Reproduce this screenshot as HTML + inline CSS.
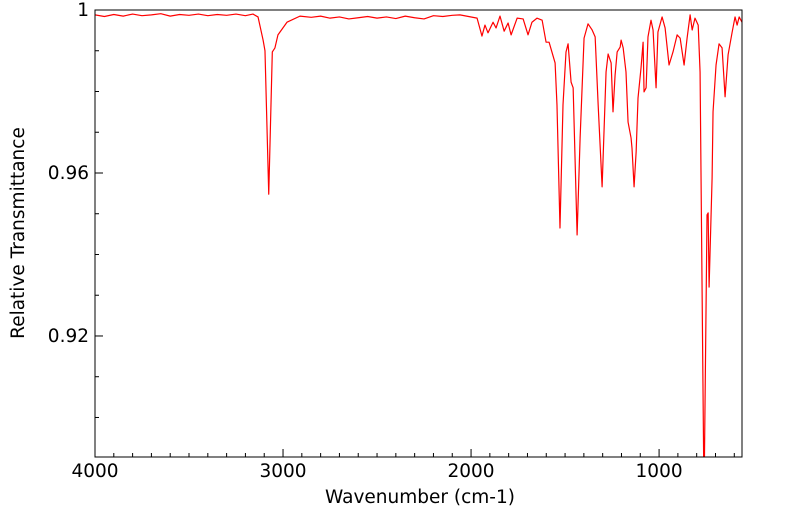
<!DOCTYPE html>
<html><head><meta charset="utf-8"><style>
html,body{margin:0;padding:0;background:#fff;}
svg{display:block;font-family:"DejaVu Sans","Liberation Sans",sans-serif;}
</style></head><body>
<svg id="chart" width="799" height="516" viewBox="0 0 799 516" xmlns="http://www.w3.org/2000/svg">
<defs><clipPath id="plotclip"><rect x="95" y="10" width="647" height="447"/></clipPath></defs>
<rect x="95" y="10" width="647" height="447" fill="#fff"/>
<g id="ticks"></g>
<path id="spectrum" fill="none" stroke="#ff0000" stroke-width="1.2" stroke-linejoin="round" clip-path="url(#plotclip)"/>
<rect x="95" y="10" width="647" height="447" fill="none" stroke="#000" stroke-width="1"/>
<text x="420" y="503" font-size="18.5" text-anchor="middle">Wavenumber (cm-1)</text>
<text transform="translate(24,233) rotate(-90)" font-size="18.5" text-anchor="middle">Relative Transmittance</text>
</svg>
<script>
const wavenumbers = [4000,3950,3900,3850,3800,3750,3700,3650,3600,3550,3500,3450,3400,3350,3300,3250,3200,3160,3133,3106,3096,3076,3057,3043,3027,2979,2910,2850,2800,2750,2700,2650,2600,2550,2500,2450,2400,2350,2300,2250,2200,2150,2100,2059,1968,1942,1926,1910,1883,1867,1846,1824,1803,1787,1755,1723,1697,1676,1649,1622,1601,1585,1553,1543,1527,1511,1495,1484,1468,1457,1436,1420,1399,1378,1356,1340,1324,1303,1282,1271,1255,1245,1234,1223,1207,1202,1191,1176,1165,1149,1144,1133,1122,1112,1096,1085,1080,1069,1059,1043,1032,1016,1006,984,968,947,926,904,888,867,851,835,824,809,792,782,761,745,739,734,718,713,697,681,665,649,633,612,596,585,574,559];
const transmittance = [0.9988,0.9984,0.9989,0.9985,0.9990,0.9986,0.9988,0.9991,0.9985,0.9989,0.9987,0.9990,0.9986,0.9989,0.9987,0.9990,0.9986,0.9990,0.9983,0.9926,0.9900,0.9548,0.9897,0.9907,0.9939,0.9970,0.9985,0.9982,0.9985,0.9980,0.9983,0.9978,0.9981,0.9984,0.9980,0.9983,0.9979,0.9985,0.9981,0.9978,0.9986,0.9984,0.9987,0.9988,0.9980,0.9936,0.9963,0.9944,0.9970,0.9956,0.9985,0.9948,0.9968,0.9939,0.9980,0.9978,0.9939,0.9970,0.9980,0.9975,0.9921,0.9921,0.9870,0.9767,0.9465,0.9767,0.9897,0.9917,0.9823,0.9809,0.9448,0.9686,0.9931,0.9966,0.9951,0.9934,0.9767,0.9566,0.9848,0.9892,0.9870,0.9750,0.9840,0.9897,0.9909,0.9926,0.9907,0.9848,0.9725,0.9686,0.9661,0.9566,0.9652,0.9784,0.9858,0.9921,0.9799,0.9809,0.9934,0.9975,0.9951,0.9809,0.9946,0.9983,0.9956,0.9865,0.9897,0.9939,0.9931,0.9865,0.9931,0.9988,0.9951,0.9980,0.9963,0.9848,0.8800,0.9497,0.9502,0.9320,0.9588,0.9750,0.9865,0.9917,0.9907,0.9787,0.9890,0.9944,0.9983,0.9963,0.9983,0.9970];
const xTickLabels = [4000,3000,2000,1000];
const yTickLabels = [1,0.96,0.92];
const xMin = 4000, xMax = 559, yMax = 1, yMin = 0.8903;
const L = 95, R = 742, T = 10, B = 457;
function xs(w){ return L + (xMin - w) / (xMin - xMax) * (R - L); }
function ys(v){ return T + (yMax - v) / (yMax - yMin) * (B - T); }
const svgNS = "http://www.w3.org/2000/svg";
const ticks = document.getElementById('ticks');
const svg = document.getElementById('chart');
let d = '';
for (let i = 0; i < wavenumbers.length; i++) {
  d += (i ? 'L' : 'M') + xs(wavenumbers[i]).toFixed(2) + ' ' + ys(transmittance[i]).toFixed(2);
}
document.getElementById('spectrum').setAttribute('d', d);
function line(x1,y1,x2,y2,name){
  const l = document.createElementNS(svgNS,'line');
  l.setAttribute('x1',x1); l.setAttribute('y1',y1); l.setAttribute('x2',x2); l.setAttribute('y2',y2);
  l.setAttribute('stroke','#000'); l.setAttribute('stroke-width','1');
  
  
  ticks.appendChild(l);
}
for (let w = 4000; w > xMax; w -= 100) {
  const x = xs(w);
  const major = (w % 1000 === 0);
  line(x, B, x, B - (major ? 8 : 4), major ? 'x-major-tick' : 'x-minor-tick');
}
for (let v = 1; v > yMin; v -= 0.01) {
  const y = ys(v);
  const major = Math.abs(Math.round(v*100) % 4) === 0;
  line(L, y, L + (major ? 8 : 4), y, major ? 'y-major-tick' : 'y-minor-tick');
}
xTickLabels.forEach(w => {
  const t = document.createElementNS(svgNS,'text');
  t.setAttribute('x', xs(w)); t.setAttribute('y', 477);
  t.setAttribute('font-size','18.5'); t.setAttribute('text-anchor','middle');
  
  
  t.textContent = w;
  svg.appendChild(t);
});
yTickLabels.forEach(v => {
  const t = document.createElementNS(svgNS,'text');
  t.setAttribute('x', 89); t.setAttribute('y', ys(v) + 6);
  t.setAttribute('font-size','18.5'); t.setAttribute('text-anchor','end');
  
  
  t.textContent = v;
  svg.appendChild(t);
});
</script>
</body></html>
